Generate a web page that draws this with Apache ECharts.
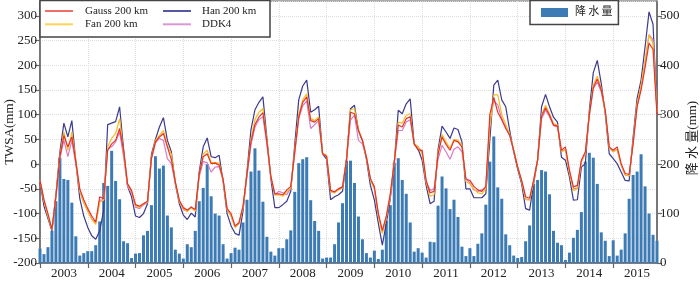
<!DOCTYPE html>
<html>
<head>
<meta charset="utf-8">
<script src="https://cdn.jsdelivr.net/npm/echarts@6/dist/echarts.min.js"></script>
<style>
html,body{margin:0;padding:0;background:#fff;}
#chart{width:700px;height:283px;}
</style>
</head>
<body>
<div id="chart"></div>
<script>
const years = [2003,2004,2005,2006,2007,2008,2009,2010,2011,2012,2013,2014,2015];
const monthsOfYear = ['01','02','03','04','05','06','07','08','09','10','11','12'];

const precip = [
 29,18,32,65,125,213,170,168,122,54,15,20,
 24,24,36,84,162,156,227,166,129,44,40,10,
 19,20,56,65,117,216,191,197,96,72,27,19,
 9,38,32,65,125,152,200,135,100,96,38,9,
 20,31,27,82,128,185,232,187,124,53,23,15,
 30,30,48,66,144,202,210,214,127,85,65,9,
 11,11,38,82,121,207,207,162,94,48,20,11,
 25,8,27,85,117,203,212,168,140,82,23,30,
 21,11,43,42,116,175,151,109,128,93,33,14,
 30,14,39,60,118,205,256,153,130,58,36,15,
 10,12,44,76,160,168,188,185,139,65,41,36,
 6,21,51,67,103,205,223,213,160,62,45,14,
 46,15,27,60,130,178,185,220,155,100,57,45
];

const gauss = [
 -33,-72,-100,-132,-65,15,58,35,55,5,-50,-72,
 -90,-105,-117,-66,-70,28,41,48,72,28,-40,-53,
 -82,-85,-80,-75,12,45,55,62,35,9,-36,-73,
 -88,-93,-87,-92,-20,15,21,1,2,-2,-30,-90,
 -100,-125,-118,-85,-20,45,80,95,104,45,-25,-60,
 -60,-62,-52,-45,25,95,125,136,88,85,92,21,
 16,-53,-56,-50,-46,8,105,102,68,48,14,-29,
 -46,-100,-134,-105,-60,4,79,75,92,96,41,29,
 28,-33,-58,-55,20,55,40,28,48,45,35,-30,
 -33,-45,-52,-55,-45,100,135,105,90,72,58,28,
 -6,-33,-66,-69,-33,8,97,114,99,79,77,28,
 35,-12,-46,-43,8,25,100,155,172,150,109,35,
 28,35,1,-19,-21,41,116,150,195,245,232,100
];

const fan = [
 -33,-75,-105,-133,-65,18,65,28,65,8,-55,-78,
 -95,-112,-122,-77,-72,35,52,62,92,22,-40,-55,
 -84,-87,-80,-76,14,48,58,68,38,20,-36,-75,
 -90,-96,-88,-95,-20,20,28,3,3,2,-32,-92,
 -105,-128,-120,-88,-20,50,90,105,112,48,-25,-62,
 -62,-65,-56,-48,30,100,130,142,92,88,96,22,
 18,-55,-58,-52,-48,10,110,112,70,48,14,-32,
 -50,-105,-140,-108,-62,5,85,83,99,102,41,35,
 20,-36,-65,-62,25,60,45,32,50,48,38,-35,
 -40,-50,-58,-60,-50,75,140,140,100,80,60,28,
 -6,-35,-72,-73,-35,8,99,119,102,82,79,25,
 30,-18,-53,-50,5,22,102,160,178,153,106,33,
 25,30,-2,-22,-24,45,122,160,210,261,245,105
];

const han = [
 -36,-85,-110,-135,-62,25,83,55,88,5,-70,-105,
 -128,-145,-152,-135,-93,80,83,86,116,30,-45,-66,
 -105,-108,-100,-80,20,50,75,94,48,25,-40,-80,
 -103,-112,-99,-107,-15,35,53,15,13,18,-35,-100,
 -125,-140,-144,-95,-15,70,110,125,136,52,-30,-88,
 -88,-82,-75,-55,40,130,158,170,105,110,117,20,
 10,-72,-66,-62,-55,10,112,119,68,48,10,-43,
 -73,-120,-164,-120,-70,2,109,102,122,132,41,30,
 8,-43,-80,-75,30,77,65,52,73,70,45,-50,
 -50,-68,-68,-68,-60,48,160,170,130,116,68,25,
 -10,-40,-90,-93,-40,8,116,141,116,95,85,14,
 8,-26,-73,-72,-6,1,109,185,210,163,102,21,
 11,1,-16,-33,-34,55,133,170,237,308,283,109
];

const ddk4 = [
 -33,-75,-105,-133,-68,12,48,15,48,0,-55,-78,
 -95,-110,-120,-73,-73,30,35,45,65,15,-45,-58,
 -87,-90,-82,-78,10,43,52,48,11,1,-40,-75,
 -92,-95,-86,-95,-25,5,3,-16,-6,-5,-33,-92,
 -105,-128,-120,-88,-25,40,75,90,96,40,-28,-62,
 -55,-58,-62,-48,22,92,118,128,72,80,88,20,
 15,-55,-58,-50,-46,8,89,99,48,41,14,-30,
 -50,-100,-138,-108,-66,4,68,68,85,90,41,35,
 25,-36,-53,-50,10,38,25,10,30,35,25,-30,
 -38,-52,-55,-52,-48,85,128,120,92,75,58,28,
 -6,-35,-70,-72,-35,8,92,109,96,78,76,25,
 30,-15,-50,-48,5,22,98,153,166,146,106,33,
 25,30,-2,-22,-24,45,118,155,205,262,252,110
];

const categories = [];
years.forEach(y => monthsOfYear.forEach(m => categories.push(y + '-' + m)));

const serif = "'Liberation Serif', 'Times New Roman', serif";
const cjk = "'Liberation Serif', 'Noto Sans CJK SC', sans-serif";

const chart = echarts.init(document.getElementById('chart'), null, {renderer: 'canvas'});
chart.setOption({
  animation: false,
  backgroundColor: '#fff',
  grid: {left: 40, right: 43, top: 1, bottom: 20, containLabel: false, outerBoundsMode: 'none',
    show: true, borderColor: '#555', borderWidth: 1, backgroundColor: 'transparent'},
  graphic: [{
    type: 'rect', z: 100, zlevel: 0,
    shape: {x: 40, y: 0.5, width: 230, height: 36.5},
    style: {fill: '#fff', stroke: '#444', lineWidth: 1.5}
  }],
  legend: [
    {
      data: ['Gauss 200 km', 'Fan 200 km'], orient: 'vertical', left: 40, top: 4.5, padding: [0,0,0,5],
      itemWidth: 28, itemHeight: 2, itemGap: 0.3, icon: 'rect', z: 110,
      textStyle: {fontFamily: serif, fontSize: 11, color: '#222', lineHeight: 13, padding: [0,0,0,7]}
    },
    {
      data: ['Han 200 km', 'DDK4'], orient: 'vertical', left: 158, top: 4.5, padding: [0,0,0,5],
      itemWidth: 28, itemHeight: 2, itemGap: 0.3, icon: 'rect', z: 110,
      textStyle: {fontFamily: serif, fontSize: 11, color: '#222', lineHeight: 13, padding: [0,0,0,6]}
    },
    {
      data: ['降水量'], left: 530, top: 0.5, padding: [6, 6, 6, 11],
      itemWidth: 27, itemHeight: 9, icon: 'rect', z: 110,
      borderColor: '#444', borderWidth: 1.5, backgroundColor: '#fff',
      formatter: () => '降\u2009水\u2009量',
      textStyle: {fontFamily: cjk, fontSize: 11, color: '#222', lineHeight: 12, padding: [0,0,0,2]}
    }
  ],
  xAxis: {
    type: 'category', data: categories, boundaryGap: false,
    axisLine: {onZero: false, lineStyle: {color: '#666', width: 1.5}},
    axisTick: {interval: (i) => i % 12 === 0, length: 5, lineStyle: {color: '#666', width: 1.2}},
    axisLabel: {interval: (i) => i % 12 === 6, formatter: (v) => v.slice(0, 4), margin: 4,
      fontFamily: serif, fontSize: 13, color: '#222'},
    splitLine: {show: true, interval: (i) => i % 12 === 0, lineStyle: {color: '#ddd', type: 'dotted', width: 1}}
  },
  yAxis: [
    {
      type: 'value', min: -200, max: 330, interval: 50, position: 'left',
      name: 'TWSA(mm)', nameLocation: 'middle', nameGap: 24, nameRotate: 90, nameMoveOverlap: false,
      nameTextStyle: {fontFamily: serif, fontSize: 13, color: '#222'},
      axisLine: {show: true, onZero: false, lineStyle: {color: '#666', width: 1.5}},
      axisTick: {show: true, length: 5, lineStyle: {color: '#666', width: 1.2}},
      axisLabel: {showMaxLabel: false, margin: 3, fontFamily: serif, fontSize: 13, color: '#222'},
      splitLine: {show: true, lineStyle: {color: '#ddd', type: 'dotted', width: 1}}
    },
    {
      type: 'value', min: 0, max: 530, interval: 100, position: 'right',
      name: '降 水 量(mm)', nameLocation: 'middle', nameGap: 29, nameRotate: 90, nameMoveOverlap: false,
      nameTextStyle: {fontFamily: cjk, fontSize: 13, color: '#222', padding: [0, 12, 0, 0]},
      axisLine: {show: true, onZero: false, lineStyle: {color: '#666', width: 1.5}},
      axisTick: {show: true, length: 5, lineStyle: {color: '#666', width: 1.2}},
      axisLabel: {showMaxLabel: false, margin: 3, fontFamily: serif, fontSize: 13, color: '#222'},
      splitLine: {show: false}
    }
  ],
  series: [
    {name: '降水量', type: 'bar', yAxisIndex: 1, data: precip, barWidth: 3,
      itemStyle: {color: '#3d7bb5'}, z: 1},
    {name: 'Han 200 km', type: 'line', data: han, symbol: 'none', z: 2,
      lineStyle: {color: '#3b3a8e', width: 1.2}, itemStyle: {color: '#5656a2'}},
    {name: 'DDK4', type: 'line', data: ddk4, symbol: 'none', z: 3,
      lineStyle: {color: '#d67cc6', width: 1.2}, itemStyle: {color: '#dc98d4'}},
    {name: 'Fan 200 km', type: 'line', data: fan, symbol: 'none', z: 4,
      lineStyle: {color: '#fbbb1c', width: 1.2}, itemStyle: {color: '#fcd456'}},
    {name: 'Gauss 200 km', type: 'line', data: gauss, symbol: 'none', z: 5,
      lineStyle: {color: '#e6332a', width: 1.2}, itemStyle: {color: '#ef6f67'}}
  ]
});
</script>
</body>
</html>
